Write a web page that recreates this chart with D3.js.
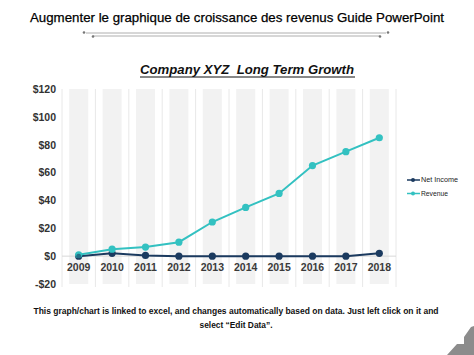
<!DOCTYPE html>
<html><head><meta charset="utf-8">
<script src="https://cdn.jsdelivr.net/npm/d3@7"></script>
<style>body{margin:0;background:#fff}svg{display:block}text{font-family:"Liberation Sans",Arial,sans-serif}</style>
</head><body>
<script>
const years = ["2009","2010","2011","2012","2013","2014","2015","2016","2017","2018"];
const netIncome = [0, 2, 0.5, 0, 0, 0, 0, 0, 0, 2];
const revenue = [1, 5, 6.5, 10, 24.5, 35, 45, 65, 75, 85];
const yTicks = [-20, 0, 20, 40, 60, 80, 100, 120];
const seriesNames = ["Net Income", "Revenue"];
const colors = ["#1b3a5f", "#33c1c1"];

const W = 474, H = 355;
const svg = d3.select("body").append("svg").attr("width", W).attr("height", H);

// Header
svg.append("text").attr("x", 237).attr("y", 22).attr("text-anchor", "middle")
  .attr("font-size", 13.5).attr("fill", "#000").attr("stroke", "#000").attr("stroke-width", 0.25)
  .attr("textLength", 414).attr("lengthAdjust", "spacingAndGlyphs")
  .text("Augmenter le graphique de croissance des revenus Guide PowerPoint");
const deco = svg.append("g").attr("stroke", "#9a9a9a").attr("stroke-width", 0.8);
deco.append("line").attr("x1", 86).attr("x2", 386).attr("y1", 33).attr("y2", 33);
deco.append("line").attr("x1", 93).attr("x2", 380).attr("y1", 36).attr("y2", 36);
[[84,32.5],[93,36.5],[380,36.5],[388,32.5]].forEach(p => svg.append("circle").attr("cx", p[0]).attr("cy", p[1]).attr("r", 1.3).attr("fill", "#777"));

// Subtitle
svg.append("text").attr("x", 247).attr("y", 74).attr("text-anchor", "middle")
  .attr("font-size", 13).attr("font-weight", "bold").attr("font-style", "italic").attr("fill", "#111")
  .style("white-space", "pre")
  .attr("textLength", 214).attr("lengthAdjust", "spacingAndGlyphs")
  .text("Company XYZ  Long Term Growth");
svg.append("line").attr("x1", 140).attr("x2", 355).attr("y1", 77).attr("y2", 77).attr("stroke", "#111").attr("stroke-width", 1);

// Chart
const x = d3.scaleBand().domain(years).range([62, 396]).paddingInner(0).paddingOuter(0);
const y = d3.scaleLinear().domain([-20, 120]).range([284, 89]);

const g = svg.append("g");
const bw = x.bandwidth() * 0.57;
g.selectAll("rect.band").data(years).join("rect")
  .attr("x", d => x(d) + x.bandwidth()/2 - bw/2).attr("width", bw)
  .attr("y", y(120)).attr("height", y(-20) - y(120)).attr("fill", "#f2f2f2");
g.selectAll("line.vg").data(years.concat(["end"])).join("line")
  .attr("x1", d => d === "end" ? 396 : x(d)).attr("x2", d => d === "end" ? 396 : x(d))
  .attr("y1", y(120)).attr("y2", y(-20) + 3).attr("stroke", "#e8e8e8").attr("stroke-width", 1);
g.append("line").attr("x1", 62).attr("x2", 396).attr("y1", y(0)).attr("y2", y(0)).attr("stroke", "#d9d9d9").attr("stroke-width", 1);

// y axis labels
const yAxis = d3.axisLeft(y).tickValues(yTicks).tickSize(0).tickPadding(0)
  .tickFormat(d => d < 0 ? "-$" + Math.abs(d) : "$" + d);
const ya = svg.append("g").attr("transform", "translate(56,0)").call(yAxis);
ya.select(".domain").remove();
ya.selectAll("text").attr("font-size", 10.5).attr("font-weight", "bold").attr("fill", "#333")
  .attr("font-family", "'Liberation Sans',Arial,sans-serif");

// x labels
const xAxis = d3.axisBottom(x).tickSize(0).tickPadding(0);
const xa = svg.append("g").attr("transform", `translate(0,${y(0) + 7})`).call(xAxis);
xa.select(".domain").remove();
xa.selectAll("text").attr("font-size", 10.5).attr("font-weight", "bold").attr("fill", "#3a3a3a")
  .attr("font-family", "'Liberation Sans',Arial,sans-serif");

// series
const cx = d => x(d) + x.bandwidth()/2;
[netIncome, revenue].forEach((vals, i) => {
  const pts = years.map((yr, j) => [cx(yr), y(vals[j])]);
  g.append("path").attr("d", d3.line()(pts)).attr("fill", "none").attr("stroke", colors[i]).attr("stroke-width", 2);
  g.selectAll(null).data(pts).join("circle").attr("cx", p => p[0]).attr("cy", p => p[1]).attr("r", 3.6).attr("fill", colors[i]);
});
g.append("circle").attr("cx", cx("2009")).attr("cy", y(netIncome[0])).attr("r", 2.5).attr("fill", colors[0]).attr("opacity", 0.6);

// legend
seriesNames.forEach((n, i) => {
  const ly = 180 + i * 13.5;
  svg.append("line").attr("x1", 407).attr("x2", 420).attr("y1", ly).attr("y2", ly).attr("stroke", colors[i]).attr("stroke-width", 1.5);
  svg.append("circle").attr("cx", 413).attr("cy", ly).attr("r", 2).attr("fill", colors[i]);
  svg.append("text").attr("x", 421).attr("y", ly + 2.3).attr("font-size", 6.5).attr("fill", "#222")
    .attr("textLength", i === 0 ? 37 : 27).attr("lengthAdjust", "spacingAndGlyphs").text(n);
});

// footer
svg.append("text").attr("x", 236).attr("y", 314).attr("text-anchor", "middle").attr("font-size", 9).attr("font-weight", "bold").attr("fill", "#111")
  .attr("textLength", 405).attr("lengthAdjust", "spacingAndGlyphs")
  .text("This graph/chart is linked to excel, and changes automatically based on data. Just left click on it and");
svg.append("text").attr("x", 236).attr("y", 328).attr("text-anchor", "middle").attr("font-size", 9).attr("font-weight", "bold").attr("fill", "#111")
  .attr("textLength", 73).attr("lengthAdjust", "spacingAndGlyphs")
  .text("select \u201cEdit Data\u201d.");

// corner decoration
svg.append("polygon").attr("points", "447,355 457,344 464,344 464,337 471,327 474,326 474,355").attr("fill", "#8c8c8c");
</script>
</body></html>
